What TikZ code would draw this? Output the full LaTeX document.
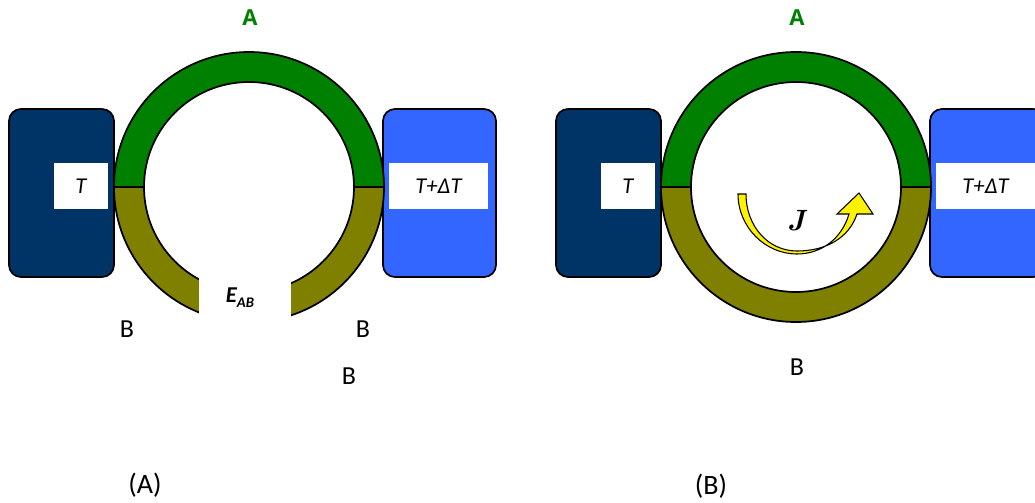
\documentclass[tikz,border=0pt]{standalone}
\usepackage{fontspec}
\setmainfont{Carlito}
\newfontfamily\osans{Open Sans}
\newfontfamily\lmr{Latin Modern Roman}
\begin{document}
\begin{tikzpicture}[x=0.75pt,y=-0.75pt,
  blk/.style={line width=1.3pt},
  hbox/.style={draw=black,line width=1.3pt,rounded corners=9pt},
  wlab/.style={fill=white,draw=none},
  lab/.style={font=\fontsize{19.5}{22}\selectfont},
  ttl/.style={font=\fontsize{21}{24}\selectfont},
  grA/.style={text={rgb,255:red,0;green,128;blue,0},font=\osans\bfseries\fontsize{16.5}{19}\selectfont},
  tlab/.style={font=\itshape\fontsize{17}{20}\selectfont}
]
\definecolor{dnavy}{RGB}{0,51,102}
\definecolor{lblue}{RGB}{51,102,255}
\definecolor{ringg}{RGB}{0,128,0}
\definecolor{ringo}{RGB}{128,128,0}
\useasboundingbox (0,0) rectangle (1035,503);

% ---------------- Panel A ----------------
\draw[hbox,fill=dnavy] (9,109) rectangle (114,277);
\draw[hbox,fill=lblue] (383,109) rectangle (496,277);
\fill[ringg] (114,187) arc[start angle=180,end angle=360,radius=135] -- (354,187) arc[start angle=360,end angle=180,radius=105] -- cycle;
\fill[ringo] (114,187) arc[start angle=180,end angle=0,radius=135] -- (354,187) arc[start angle=0,end angle=180,radius=105] -- cycle;
\draw[blk] (249,187) circle[radius=135];
\draw[blk] (249,187) circle[radius=105];
\draw[blk] (114,187) -- (144,187);
\draw[blk] (354,187) -- (384,187);
\fill[white] (199,278) rectangle (291,325);
\node[wlab,minimum width=54*0.75pt,minimum height=46*0.75pt,inner sep=0pt] (tA) at (81,186) {};
\node[tlab] at (tA) {T};
\node[wlab,minimum width=99*0.75pt,minimum height=46*0.75pt,inner sep=0pt] (tdA) at (438.5,186) {};
\node[tlab] at (tdA) {T+\char"2206T};
\node[font=\bfseries\itshape\fontsize{17}{20}\selectfont] (eab) at (240,298) {E\raisebox{-0.45ex}{\fontsize{11}{12}\selectfont AB}};

\node[grA] (aA) at (250,18) {A};
\node[lab] (b1) at (127,329) {B};
\node[lab] (b2) at (363,329) {B};
\node[lab] (b3) at (349,376) {B};
\node[ttl] (capA) at (145,485) {(A)};

% ---------------- Panel B ----------------
\draw[hbox,fill=dnavy] (556,109) rectangle (661,277);
\draw[hbox,fill=lblue] (930,109) rectangle (1045,277);
\fill[ringg] (661,187) arc[start angle=180,end angle=360,radius=135] -- (901,187) arc[start angle=360,end angle=180,radius=105] -- cycle;
\fill[ringo] (661,187) arc[start angle=180,end angle=0,radius=135] -- (901,187) arc[start angle=0,end angle=180,radius=105] -- cycle;
\draw[blk] (796,187) circle[radius=135];
\draw[blk] (796,187) circle[radius=105];
\draw[blk] (661,187) -- (691,187);
\draw[blk] (901,187) -- (931,187);
\node[wlab,minimum width=54*0.75pt,minimum height=46*0.75pt,inner sep=0pt] (tB) at (628,186) {};
\node[tlab] at (tB) {T};
\node[wlab,minimum width=99*0.75pt,minimum height=46*0.75pt,inner sep=0pt] (tdB) at (985.5,186) {};
\node[tlab] at (tdB) {T+\char"2206T};

% arrow J
\draw[fill=yellow,line width=0.8pt,line join=miter]
  (738,194) .. controls (738,227) and (765,254) .. (797,254)
  .. controls (822,254) and (842,238) .. (849,214)
  -- (837,214) -- (859,193) -- (873,214) -- (857,214)
  .. controls (849,238) and (826,251) .. (797,251)
  .. controls (768,251) and (746,226) .. (746,194) -- cycle;
\node[font=\lmr\bfseries\itshape\fontsize{22}{24}\selectfont] (J) at (796,221) {J};

\node[grA] (aB) at (797,18) {A};
\node[lab] (b4) at (797,367) {B};
\node[ttl] (capB) at (711,486) {(B)};
\end{tikzpicture}
\end{document}
